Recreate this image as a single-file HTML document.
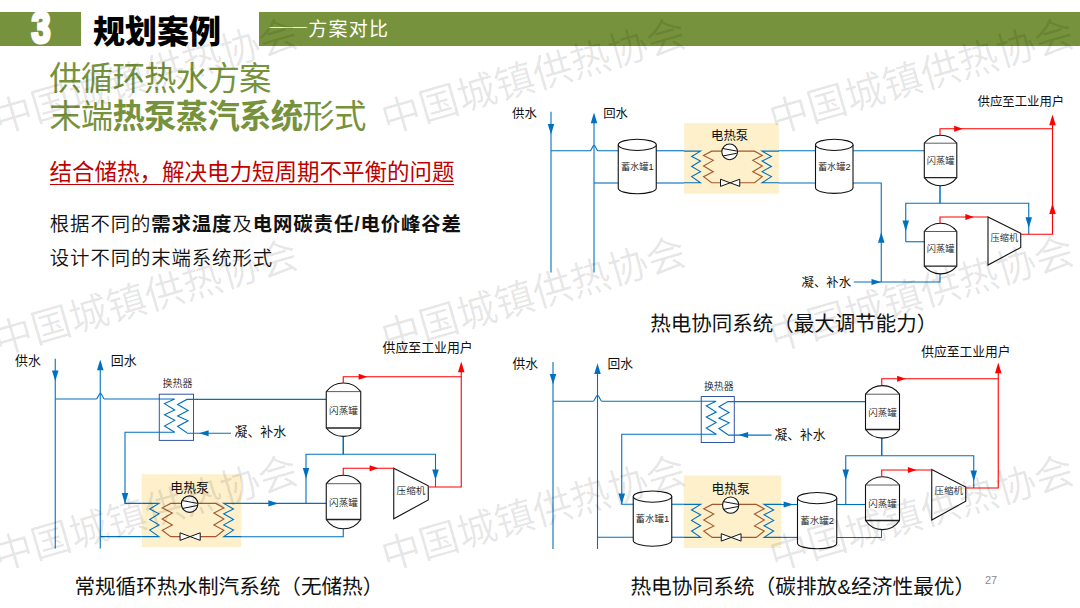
<!DOCTYPE html>
<html lang="zh-CN">
<head>
<meta charset="utf-8">
<title>规划案例——方案对比</title>
<style>
html,body{margin:0;padding:0;background:#fff;}
body{width:1080px;height:608px;position:relative;overflow:hidden;font-family:"Liberation Sans","Noto Sans CJK SC",sans-serif;color:#000;}
.abs{position:absolute;white-space:nowrap;}
.bar{position:absolute;background:#76923C;top:12px;height:34px;}
#num{left:21px;top:6px;width:40px;text-align:center;color:#fff;font-weight:700;font-size:43.5px;line-height:44px;transform:scaleX(0.79);transform-origin:50% 50%;-webkit-text-stroke:3.2px #fff;}
#title{left:93px;top:12px;font-size:32px;line-height:40px;font-weight:900;color:#000;}
#sub{left:267.8px;top:13.5px;font-size:19px;line-height:28px;font-weight:400;color:#fff;letter-spacing:1.2px;}
#sub span{font-family:"Noto Sans CJK SC",sans-serif;font-weight:300;letter-spacing:0;font-size:20.25px;position:relative;top:-1px;}
.big{left:49.2px;font-size:32.4px;line-height:40px;color:#76923C;font-weight:400;letter-spacing:-0.75px;}
.big b{font-weight:700;}
#red{left:49.5px;top:156.7px;font-size:22.5px;line-height:32px;color:#C00000;font-weight:400;}
#redline{left:50px;top:184px;width:404px;height:1.4px;background:#C00000;}
.body{left:49.8px;font-size:19.4px;line-height:30px;color:#111;font-weight:350;letter-spacing:0.9px;}
.body b{font-weight:700;}
svg{position:absolute;left:0;top:0;}
svg text{font-family:"Liberation Sans","Noto Sans CJK SC",sans-serif;}
</style>
</head>
<body>
<div class="bar" style="left:0;width:81px;"></div>
<div class="bar" style="left:259.2px;width:821px;"></div>
<div class="abs" id="num">3</div>
<div class="abs" id="title">规划案例</div>
<div class="abs" id="sub"><span>——</span>方案对比</div>
<div class="abs big" style="top:58.5px;">供循环热水方案</div>
<div class="abs big" style="top:96.7px;">末端<b>热泵蒸汽系统</b>形式</div>
<div class="abs" id="red">结合储热，解决电力短周期不平衡的问题</div>
<div class="abs" id="redline"></div>
<div class="abs body" style="top:209.2px;">根据不同的<b>需求温度</b>及<b>电网碳责任/电价峰谷差</b></div>
<div class="abs body" style="top:243.4px;">设计不同的末端系统形式</div>
<svg width="1080" height="608" viewBox="0 0 1080 608">
<g id="diagrams">
<text x="512" y="117.6" font-size="12.38" text-anchor="start" fill="#111" font-weight="400" >供水</text>
<text x="603.2" y="117.6" font-size="12.38" text-anchor="start" fill="#111" font-weight="400" >回水</text>
<polyline points="551,111.8 551,272.5" fill="none" stroke="#0070C0" stroke-width="1.1"/>
<polygon points="551,134.6 547.75,124 554.25,124" fill="#0070C0"/>
<polyline points="594,118 594,272.5" fill="none" stroke="#0070C0" stroke-width="1.1"/>
<polygon points="594,112.6 590.75,123.2 597.25,123.2" fill="#0070C0"/>
<path d="M551,150.75 H590.2 C591.7,150.75 592.45,145.2 594.05,145.2 C595.65,145.2 596.4,150.75 597.9,150.75 H618.5" fill="none" stroke="#0070C0" stroke-width="1.1"/>
<polyline points="594,183 618.5,183" fill="none" stroke="#0070C0" stroke-width="1.1"/>
<polyline points="656,150.75 684,150.75" fill="none" stroke="#0070C0" stroke-width="1.1"/>
<polyline points="656,183 684,183" fill="none" stroke="#0070C0" stroke-width="1.1"/>
<rect x="684.1" y="123.1" width="94.7" height="70.5" fill="#FDF0CB"/><polyline points="684,151.15 700.51,151.15 691.68,156.53 700.51,161.09 691.68,166.47 700.51,171.64 691.68,176.61 700.51,182.8 684,182.8" fill="none" stroke="#0070C0" stroke-width="1.1"/><polyline points="779,151.15 762.09,151.15 771.42,156.53 762.09,161.09 771.42,166.47 762.09,171.64 771.42,176.61 762.09,182.8 779,182.8" fill="none" stroke="#0070C0" stroke-width="1.1"/><polyline points="721.79,151.15 711.68,151.15 703.53,155.41 713.24,160.38 703.53,166.06 713.24,171.74 703.53,176.71 711.68,182.8 720.52,182.8" fill="none" stroke="#A5562A" stroke-width="1.1"/><polyline points="737.52,151.15 754.52,151.15 762.29,155.41 752.77,160.38 762.29,166.06 752.77,171.74 762.29,176.71 754.52,182.8 739.75,182.8" fill="none" stroke="#A5562A" stroke-width="1.1"/><circle cx="729.65" cy="151.85" r="7.87" fill="#fff" stroke="#111" stroke-width="1.1"/><polyline points="723.04,148.55 736.73,151.06" fill="none" stroke="#111" stroke-width="1"/><polyline points="723.04,155.94 736.73,153.27" fill="none" stroke="#111" stroke-width="1"/><polygon points="720.52,179.21 720.52,186.39 730.14,182.8" fill="#fff" stroke="#111" stroke-width="1"/><polygon points="739.75,179.21 739.75,186.39 730.14,182.8" fill="#fff" stroke="#111" stroke-width="1"/><text x="729.65" y="140.3" font-size="12.38" text-anchor="middle" fill="#111" font-weight="400" >电热泵</text>
<polyline points="778.8,150.75 924.3,150.75" fill="none" stroke="#0070C0" stroke-width="1.1"/>
<polyline points="778.8,183 881.25,183 881.25,282" fill="none" stroke="#0070C0" stroke-width="1.1"/>
<polygon points="881.25,232.1 878,242.7 884.5,242.7" fill="#0070C0"/>
<path d="M618.25,144.85 V188.15 A19,5.6 0 0 0 656.25,188.15 V144.85" fill="#fff" stroke="#111" stroke-width="1.1"/><ellipse cx="637.25" cy="144.85" rx="19" ry="5.6" fill="#fff" stroke="#111" stroke-width="1.1"/><text x="637.25" y="169.5" font-size="9.2" text-anchor="middle" fill="#222" font-weight="350" >蓄水罐1</text>
<path d="M815.5,144.85 V187.8 A18.75,5.6 0 0 0 853,187.8 V144.85" fill="#fff" stroke="#111" stroke-width="1.1"/><ellipse cx="834.25" cy="144.85" rx="18.75" ry="5.6" fill="#fff" stroke="#111" stroke-width="1.1"/><text x="834.25" y="169.5" font-size="9.2" text-anchor="middle" fill="#222" font-weight="350" >蓄水罐2</text>
<text x="801.5" y="287" font-size="12.38" text-anchor="start" fill="#111" font-weight="400" >凝、补水</text>
<polyline points="853.75,282 940,282 940,273.75" fill="none" stroke="#0070C0" stroke-width="1.1"/>
<polygon points="881.3,282 871.5,278.9 871.5,285.1" fill="#0070C0"/>
<polyline points="940,185.7 940,203.25" fill="none" stroke="#0070C0" stroke-width="1.5"/>
<polyline points="905.75,241.75 905.75,203.25 1028.75,203.25 1028.75,234.25" fill="none" stroke="#0070C0" stroke-width="1.1"/>
<polyline points="905.75,241.75 924.3,241.75" fill="none" stroke="#0070C0" stroke-width="1.1"/>
<polygon points="905.75,231.15 902.5,220.55 909,220.55" fill="#0070C0"/>
<polygon points="1028.75,227.9 1025.5,217.3 1032,217.3" fill="#0070C0"/>
<path d="M924.3,143.2 A20.5,20.5 0 0 1 956.8,143.2 V177.7 A20.35,20.35 0 0 1 924.3,177.7 Z" fill="#fff" stroke="#111" stroke-width="1.1"/><line x1="924.3" y1="143.2" x2="956.8" y2="143.2" stroke="#333" stroke-width="0.8"/><line x1="924.3" y1="177.7" x2="956.8" y2="177.7" stroke="#222" stroke-width="1.3"/><text x="940.55" y="164.3" font-size="9.2" text-anchor="middle" fill="#222" font-weight="350" >闪蒸罐</text>
<path d="M924.3,231.5 A20.06,20.06 0 0 1 956.8,231.5 V266.2 A21,21 0 0 1 924.3,266.2 Z" fill="#fff" stroke="#111" stroke-width="1.1"/><line x1="924.3" y1="231.5" x2="956.8" y2="231.5" stroke="#333" stroke-width="0.8"/><line x1="924.3" y1="266.2" x2="956.8" y2="266.2" stroke="#222" stroke-width="1.3"/><text x="940.55" y="252.3" font-size="9.2" text-anchor="middle" fill="#222" font-weight="350" >闪蒸罐</text>
<polygon points="988,217 1020.75,233.25 1020.75,247.5 988,265" fill="#fff" stroke="#111" stroke-width="1.1"/><text x="1004.38" y="240.6" font-size="9.2" text-anchor="middle" fill="#222" font-weight="350" >压缩机</text>
<polyline points="940,135.2 940,128.75 1052.5,128.75" fill="none" stroke="#FF0000" stroke-width="1.1"/>
<polygon points="962.9,128.75 954.1,125.8 954.1,131.7" fill="#FF0000"/>
<polyline points="940,223.2 940,217 988,217" fill="none" stroke="#FF0000" stroke-width="1.1"/>
<polygon points="974.15,217 965.35,214.05 965.35,219.95" fill="#FF0000"/>
<polyline points="1020.75,234.25 1052.5,234.25 1052.5,120" fill="none" stroke="#FF0000" stroke-width="1.1"/>
<polygon points="1052.5,203.35 1049.25,213.95 1055.75,213.95" fill="#FF0000"/>
<polygon points="1052.5,114.6 1049.25,125.2 1055.75,125.2" fill="#FF0000"/>
<text x="977.5" y="106.4" font-size="12.38" text-anchor="start" fill="#111" font-weight="400" >供应至工业用户</text>
<text x="650.2" y="331.2" font-size="20.5" text-anchor="start" fill="#111" font-weight="400" >热电协同系统（最大调节能力）</text>
<text x="15" y="364.6" font-size="12.9" text-anchor="start" fill="#111" font-weight="400" >供水</text>
<text x="110.8" y="364.6" font-size="12.9" text-anchor="start" fill="#111" font-weight="400" >回水</text>
<polyline points="55.25,358.75 55.25,548.5" fill="none" stroke="#0070C0" stroke-width="1.1"/>
<polygon points="55.25,381.15 52,370.55 58.5,370.55" fill="#0070C0"/>
<polyline points="100.25,365 100.25,548.5" fill="none" stroke="#0070C0" stroke-width="1.1"/>
<polygon points="100.25,359.6 97,370.2 103.5,370.2" fill="#0070C0"/>
<path d="M55.25,399 H96.25 C97.75,399 98.78,393.3 100.38,393.3 C101.97,393.3 103,399 104.5,399 H160" fill="none" stroke="#0070C0" stroke-width="1.1"/>
<rect x="159.3" y="394.2" width="34.2" height="46.2" fill="none" stroke="#3553A4" stroke-width="1"/><polyline points="159,399 174.7,399 164.5,403.61 174.7,409.93 164.5,414.85 174.7,420.36 164.5,425.98 174.7,432.3" fill="none" stroke="#0070C0" stroke-width="1.1"/><polyline points="326.25,399.4 186.9,399.4 177.6,404.5 188.1,410.4 177.6,416 188.1,420.8 177.6,426.4 186.9,432.7" fill="none" stroke="#0070C0" stroke-width="1.1"/><text x="177.4" y="387.2" font-size="9.98" text-anchor="middle" fill="#222" font-weight="350" >换热器</text>
<polyline points="174.5,432.3 125,432.3 125,503.4 142,503.4" fill="none" stroke="#0070C0" stroke-width="1.1"/>
<polygon points="125,503.7 121.75,493.1 128.25,493.1" fill="#0070C0"/>
<polyline points="186.9,433.2 231,433.2" fill="none" stroke="#0070C0" stroke-width="1.1"/>
<polygon points="199,433.2 208.6,430.2 208.6,436.2" fill="#0070C0"/>
<text x="234.5" y="436.4" font-size="12.9" text-anchor="start" fill="#111" font-weight="400" >凝、补水</text>
<polyline points="100.25,536.6 142,536.6" fill="none" stroke="#0070C0" stroke-width="1.1"/>
<rect x="141.75" y="474.25" width="99.5" height="73" fill="#FDF0CB"/><polyline points="141.7,503.4 159,503.4 149.71,509.04 159,513.83 149.71,519.47 159,524.89 149.71,530.11 159,536.6 141.7,536.6" fill="none" stroke="#0070C0" stroke-width="1.1"/><polyline points="241.5,503.4 223.7,503.4 233.49,509.04 223.7,513.83 233.49,519.47 223.7,524.89 233.49,530.11 223.7,536.6 241.5,536.6" fill="none" stroke="#0070C0" stroke-width="1.1"/><polyline points="181.35,503.4 170.73,503.4 162.16,507.87 172.37,513.08 162.16,519.04 172.37,525 162.16,530.22 170.73,536.6 180.02,536.6" fill="none" stroke="#A5562A" stroke-width="1.1"/><polyline points="197.88,503.4 215.74,503.4 223.9,507.87 213.9,513.08 223.9,519.04 213.9,525 223.9,530.22 215.74,536.6 200.23,536.6" fill="none" stroke="#A5562A" stroke-width="1.1"/><circle cx="189.61" cy="504.1" r="8.27" fill="#fff" stroke="#111" stroke-width="1.1"/><polyline points="182.67,500.63 197.05,503.27" fill="none" stroke="#111" stroke-width="1"/><polyline points="182.67,508.4 197.05,505.59" fill="none" stroke="#111" stroke-width="1"/><polygon points="180.02,532.82 180.02,540.38 190.12,536.6" fill="#fff" stroke="#111" stroke-width="1"/><polygon points="200.23,532.82 200.23,540.38 190.12,536.6" fill="#fff" stroke="#111" stroke-width="1"/><text x="189.61" y="491.8" font-size="12.9" text-anchor="middle" fill="#111" font-weight="400" >电热泵</text>
<polyline points="241.25,503.4 326.25,503.4" fill="none" stroke="#0070C0" stroke-width="1.1"/>
<polygon points="278.2,503.4 268.4,500.3 268.4,506.5" fill="#0070C0"/>
<polyline points="241.25,536.75 343.25,536.75 343.25,528.75" fill="none" stroke="#0070C0" stroke-width="1.1"/>
<polyline points="343.25,436.25 343.25,454.25" fill="none" stroke="#0070C0" stroke-width="1.5"/>
<polyline points="306,503.4 306,454.25 435.5,454.25 435.5,487" fill="none" stroke="#0070C0" stroke-width="1.1"/>
<polygon points="306,478.7 302.75,468.1 309.25,468.1" fill="#0070C0"/>
<polygon points="435.5,480 432.25,469.4 438.75,469.4" fill="#0070C0"/>
<path d="M326.25,391.6 A21.6,21.6 0 0 1 360.75,391.6 V428 A21.91,21.91 0 0 1 326.25,428 Z" fill="#fff" stroke="#111" stroke-width="1.1"/><line x1="326.25" y1="391.6" x2="360.75" y2="391.6" stroke="#333" stroke-width="0.8"/><line x1="326.25" y1="428" x2="360.75" y2="428" stroke="#222" stroke-width="1.3"/><text x="343.5" y="413.6" font-size="9.6" text-anchor="middle" fill="#222" font-weight="350" >闪蒸罐</text>
<path d="M326.25,483.7 A21.75,21.75 0 0 1 360.75,483.7 V519.5 A20.65,20.65 0 0 1 326.25,519.5 Z" fill="#fff" stroke="#111" stroke-width="1.1"/><line x1="326.25" y1="483.7" x2="360.75" y2="483.7" stroke="#333" stroke-width="0.8"/><line x1="326.25" y1="519.5" x2="360.75" y2="519.5" stroke="#222" stroke-width="1.3"/><text x="343.5" y="506.2" font-size="9.6" text-anchor="middle" fill="#222" font-weight="350" >闪蒸罐</text>
<polygon points="393.75,468.25 428.25,485.75 428.25,500 393.75,518.75" fill="#fff" stroke="#111" stroke-width="1.1"/><text x="411" y="493.6" font-size="9.6" text-anchor="middle" fill="#222" font-weight="350" >压缩机</text>
<polyline points="343.25,383 343.25,376.75 461.25,376.75" fill="none" stroke="#FF0000" stroke-width="1.1"/>
<polygon points="367.4,376.75 358.6,373.8 358.6,379.7" fill="#FF0000"/>
<polyline points="343.25,475.2 343.25,468.25 393.75,468.25" fill="none" stroke="#FF0000" stroke-width="1.1"/>
<polygon points="378.4,468.25 369.6,465.3 369.6,471.2" fill="#FF0000"/>
<polyline points="428.25,487 461.25,487 461.25,367" fill="none" stroke="#FF0000" stroke-width="1.1"/>
<polygon points="461.25,361.6 458,372.2 464.5,372.2" fill="#FF0000"/>
<text x="382.5" y="352.2" font-size="12.9" text-anchor="start" fill="#111" font-weight="400" >供应至工业用户</text>
<text x="74.4" y="593.7" font-size="20.6" text-anchor="start" fill="#111" font-weight="400" >常规循环热水制汽系统（无储热）</text>
<text x="512.5" y="367.6" font-size="12.75" text-anchor="start" fill="#111" font-weight="400" >供水</text>
<text x="607.5" y="367.6" font-size="12.75" text-anchor="start" fill="#111" font-weight="400" >回水</text>
<polyline points="553,362 553,549" fill="none" stroke="#0070C0" stroke-width="1.1"/>
<polygon points="553,384.6 549.75,374 556.25,374" fill="#0070C0"/>
<polyline points="597.5,368 597.5,549" fill="none" stroke="#0070C0" stroke-width="1.1"/>
<polygon points="597.5,363.3 594.25,373.9 600.75,373.9" fill="#0070C0"/>
<path d="M553,401.2 H593.2 C594.7,401.2 595.9,395.3 597.5,395.3 C599.1,395.3 600.3,401.2 601.8,401.2 H701.5" fill="none" stroke="#0070C0" stroke-width="1.1"/>
<rect x="701.25" y="396.5" width="33.05" height="46" fill="none" stroke="#3553A4" stroke-width="1"/><polyline points="701,401.2 716.13,401.2 706.28,405.79 716.13,412.07 706.28,416.95 716.13,422.44 706.28,428.02 716.13,434.3" fill="none" stroke="#0070C0" stroke-width="1.1"/><polyline points="865.5,401.6 727.92,401.6 718.93,406.67 729.08,412.53 718.93,418.1 729.08,422.87 718.93,428.44 727.92,434.7" fill="none" stroke="#0070C0" stroke-width="1.1"/><text x="718.77" y="389.6" font-size="9.88" text-anchor="middle" fill="#222" font-weight="350" >换热器</text>
<polyline points="716.5,434.3 621.75,434.3 621.75,504.25 633.5,504.25" fill="none" stroke="#0070C0" stroke-width="1.1"/>
<polygon points="621.75,504.2 618.5,493.6 625,493.6" fill="#0070C0"/>
<polyline points="727.9,435.1 771.5,435.1" fill="none" stroke="#0070C0" stroke-width="1.1"/>
<polygon points="738.5,435.1 748.1,432.1 748.1,438.1" fill="#0070C0"/>
<text x="774.5" y="439" font-size="12.75" text-anchor="start" fill="#111" font-weight="400" >凝、补水</text>
<polyline points="597.5,537.25 633.5,537.25" fill="none" stroke="#0070C0" stroke-width="1.1"/>
<polyline points="671.5,504.25 684,504.25" fill="none" stroke="#0070C0" stroke-width="1.1"/>
<polyline points="671.5,537.25 684,537.25" fill="none" stroke="#0070C0" stroke-width="1.1"/>
<rect x="683.75" y="475.5" width="97.5" height="72.5" fill="#FDF0CB"/><polyline points="683.7,504.4 700.65,504.4 691.55,510.01 700.65,514.77 691.55,520.37 700.65,525.77 691.55,530.95 700.65,537.4 683.7,537.4" fill="none" stroke="#0070C0" stroke-width="1.1"/><polyline points="781.5,504.4 764.05,504.4 773.65,510.01 764.05,514.77 773.65,520.37 764.05,525.77 773.65,530.95 764.05,537.4 781.5,537.4" fill="none" stroke="#0070C0" stroke-width="1.1"/><polyline points="722.55,504.4 712.15,504.4 703.75,508.84 713.75,514.02 703.75,519.95 713.75,525.87 703.75,531.05 712.15,537.4 721.25,537.4" fill="none" stroke="#A5562A" stroke-width="1.1"/><polyline points="738.75,504.4 756.25,504.4 764.25,508.84 754.45,514.02 764.25,519.95 754.45,525.87 764.25,531.05 756.25,537.4 741.05,537.4" fill="none" stroke="#A5562A" stroke-width="1.1"/><circle cx="730.65" cy="505.1" r="8.1" fill="#fff" stroke="#111" stroke-width="1.1"/><polyline points="723.85,501.7 737.94,504.29" fill="none" stroke="#111" stroke-width="1"/><polyline points="723.85,509.31 737.94,506.56" fill="none" stroke="#111" stroke-width="1"/><polygon points="721.25,533.7 721.25,541.1 731.15,537.4" fill="#fff" stroke="#111" stroke-width="1"/><polygon points="741.05,533.7 741.05,541.1 731.15,537.4" fill="#fff" stroke="#111" stroke-width="1"/><text x="730.65" y="493.2" font-size="12.75" text-anchor="middle" fill="#111" font-weight="400" >电热泵</text>
<polyline points="781.25,504.5 797.5,504.5" fill="none" stroke="#0070C0" stroke-width="1.1"/>
<polygon points="793.4,504.5 783.6,501.4 783.6,507.6" fill="#0070C0"/>
<polyline points="781.25,537.4 797.5,537.4" fill="none" stroke="#0070C0" stroke-width="1.1"/>
<polyline points="836.75,504.5 865.5,504.5" fill="none" stroke="#0070C0" stroke-width="1.1"/>
<polyline points="836.75,537.5 881.5,537.5 881.5,529.3" fill="none" stroke="#0070C0" stroke-width="1.1"/>
<path d="M633.25,496.6 V540.6 A19.25,5.6 0 0 0 671.75,540.6 V496.6" fill="#fff" stroke="#111" stroke-width="1.1"/><ellipse cx="652.5" cy="496.6" rx="19.25" ry="5.6" fill="#fff" stroke="#111" stroke-width="1.1"/><text x="652.5" y="522.2" font-size="9.5" text-anchor="middle" fill="#222" font-weight="350" >蓄水罐1</text>
<path d="M797.5,498.1 V543.15 A19.62,5.6 0 0 0 836.75,543.15 V498.1" fill="#fff" stroke="#111" stroke-width="1.1"/><ellipse cx="817.12" cy="498.1" rx="19.62" ry="5.6" fill="#fff" stroke="#111" stroke-width="1.1"/><text x="817.12" y="523.7" font-size="9.5" text-anchor="middle" fill="#222" font-weight="350" >蓄水罐2</text>
<polyline points="881.75,438 881.75,455.75" fill="none" stroke="#0070C0" stroke-width="1.5"/>
<polyline points="845.75,504.5 845.75,455.75 973.75,455.75 973.75,488" fill="none" stroke="#0070C0" stroke-width="1.1"/>
<polygon points="845.75,480.2 842.5,469.6 849,469.6" fill="#0070C0"/>
<polygon points="973.75,481.2 970.5,470.6 977,470.6" fill="#0070C0"/>
<path d="M865.5,394.2 A21.1,21.1 0 0 1 899.5,394.2 V429.5 A21.1,21.1 0 0 1 865.5,429.5 Z" fill="#fff" stroke="#111" stroke-width="1.1"/><line x1="865.5" y1="394.2" x2="899.5" y2="394.2" stroke="#333" stroke-width="0.8"/><line x1="865.5" y1="429.5" x2="899.5" y2="429.5" stroke="#222" stroke-width="1.3"/><text x="882.5" y="415.8" font-size="9.5" text-anchor="middle" fill="#222" font-weight="350" >闪蒸罐</text>
<path d="M865.5,485 A21.56,21.56 0 0 1 899.5,485 V520.5 A20.43,20.43 0 0 1 865.5,520.5 Z" fill="#fff" stroke="#111" stroke-width="1.1"/><line x1="865.5" y1="485" x2="899.5" y2="485" stroke="#333" stroke-width="0.8"/><line x1="865.5" y1="520.5" x2="899.5" y2="520.5" stroke="#222" stroke-width="1.3"/><text x="882.5" y="506.7" font-size="9.5" text-anchor="middle" fill="#222" font-weight="350" >闪蒸罐</text>
<polygon points="931.75,469.5 965.75,487 965.75,501.25 931.75,520" fill="#fff" stroke="#111" stroke-width="1.1"/><text x="948.75" y="494.3" font-size="9.5" text-anchor="middle" fill="#222" font-weight="350" >压缩机</text>
<polyline points="881.75,385.6 881.75,378.75 998.25,378.75" fill="none" stroke="#FF0000" stroke-width="1.1"/>
<polygon points="905.9,378.75 897.1,375.8 897.1,381.7" fill="#FF0000"/>
<polyline points="881.75,476.7 881.75,470 931.75,470" fill="none" stroke="#FF0000" stroke-width="1.1"/>
<polygon points="916.65,470 907.85,467.05 907.85,472.95" fill="#FF0000"/>
<polyline points="965.75,488 998.25,488 998.25,368" fill="none" stroke="#FF0000" stroke-width="1.1"/>
<polygon points="998.25,362.6 995,373.2 1001.5,373.2" fill="#FF0000"/>
<text x="921.2" y="356" font-size="12.75" text-anchor="start" fill="#111" font-weight="400" >供应至工业用户</text>
<text x="630.4" y="593.8" font-size="20.7" text-anchor="start" fill="#111" font-weight="400" >热电协同系统（碳排放&amp;经济性最优）</text>
<text x="985" y="584.3" font-size="11" text-anchor="start" fill="#8a8a8a" font-weight="400" >27</text>
</g>
<g id="watermark">
<text x="145.5" y="76" transform="rotate(-16.3 145.5 76)" text-anchor="middle" dominant-baseline="central" font-size="39.4" font-weight="350" fill="#000" fill-opacity="0.11">中国城镇供热协会</text>
<text x="533.5" y="76" transform="rotate(-16.3 533.5 76)" text-anchor="middle" dominant-baseline="central" font-size="39.4" font-weight="350" fill="#000" fill-opacity="0.11">中国城镇供热协会</text>
<text x="921.5" y="76" transform="rotate(-16.3 921.5 76)" text-anchor="middle" dominant-baseline="central" font-size="39.4" font-weight="350" fill="#000" fill-opacity="0.11">中国城镇供热协会</text>
<text x="145.5" y="297.5" transform="rotate(-16.3 145.5 297.5)" text-anchor="middle" dominant-baseline="central" font-size="39.4" font-weight="350" fill="#000" fill-opacity="0.11">中国城镇供热协会</text>
<text x="533.5" y="294.5" transform="rotate(-16.3 533.5 294.5)" text-anchor="middle" dominant-baseline="central" font-size="39.4" font-weight="350" fill="#000" fill-opacity="0.11">中国城镇供热协会</text>
<text x="921.5" y="293.5" transform="rotate(-16.3 921.5 293.5)" text-anchor="middle" dominant-baseline="central" font-size="39.4" font-weight="350" fill="#000" fill-opacity="0.11">中国城镇供热协会</text>
<text x="145.5" y="513" transform="rotate(-16.3 145.5 513)" text-anchor="middle" dominant-baseline="central" font-size="39.4" font-weight="350" fill="#000" fill-opacity="0.11">中国城镇供热协会</text>
<text x="533.5" y="513" transform="rotate(-16.3 533.5 513)" text-anchor="middle" dominant-baseline="central" font-size="39.4" font-weight="350" fill="#000" fill-opacity="0.11">中国城镇供热协会</text>
<text x="921.5" y="513" transform="rotate(-16.3 921.5 513)" text-anchor="middle" dominant-baseline="central" font-size="39.4" font-weight="350" fill="#000" fill-opacity="0.11">中国城镇供热协会</text>
</g>
</svg>
</body>
</html>
